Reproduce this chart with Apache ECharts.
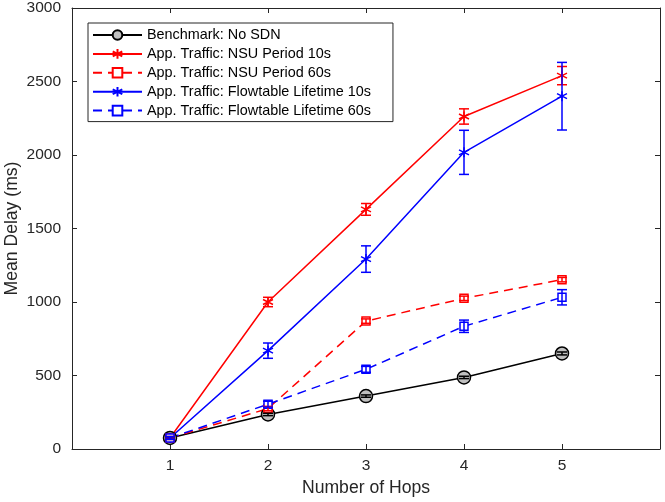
<!DOCTYPE html>
<html lang="en">
<head>
  <meta charset="UTF-8">
  <title>Mean Delay vs Number of Hops</title>
  <style>
    html, body { margin: 0; padding: 0; background: #fff; }
    #chart { width: 665px; height: 502px; }
  </style>
</head>
<body>
  <div id="chart"></div>
  <script src="https://cdn.jsdelivr.net/npm/echarts@6/dist/echarts.min.js"></script>
  <script>
    // hops on x axis
    var hops = [1, 2, 3, 4, 5];
    // mean delay (ms) and error (half-width) per series
    var benchmark = [75, 235, 360, 487, 650];
    var benchmarkErr = [5, 8, 8, 8, 10];
    var nsu10 = [75, 1000, 1630, 2262, 2540];
    var nsu10Err = [10, 32, 40, 52, 62];
    var nsu60 = [75, 275, 870, 1025, 1152];
    var nsu60Err = [8, 15, 15, 15, 15];
    var flow10 = [75, 669, 1292, 2018, 2400];
    var flow10Err = [10, 52, 90, 150, 230];
    var flow60 = [75, 305, 542, 835, 1032];
    var flow60Err = [8, 20, 20, 42, 52];
    var yTicks = [0, 500, 1000, 1500, 2000, 2500, 3000];

    var axisColor = '#262626';
    var font = 'Liberation Sans, Arial, sans-serif';
    var asterisk = 'path://M0,-10L0,10M-8.7,-5L8.7,5M-8.7,5L8.7,-5';

    function pairs(vals) {
      return hops.map(function (h, i) { return [h, vals[i]]; });
    }

    function errSeries(vals, errs, color, z) {
      return {
        type: 'custom',
        xAxisIndex: 0,
        yAxisIndex: 0,
        silent: true,
        z: z,
        data: hops.map(function (h, i) { return [h, vals[i], errs[i]]; }),
        renderItem: function (params, api) {
          var x = api.value(0), v = api.value(1), e = api.value(2);
          var top = api.coord([x, v + e]);
          var bot = api.coord([x, v - e]);
          var w = 5;
          var st = { stroke: color, lineWidth: 1.5 };
          return {
            type: 'group',
            children: [
              { type: 'line', shape: { x1: top[0], y1: top[1], x2: bot[0], y2: bot[1] }, style: st },
              { type: 'line', shape: { x1: top[0] - w, y1: top[1], x2: top[0] + w, y2: top[1] }, style: st },
              { type: 'line', shape: { x1: bot[0] - w, y1: bot[1], x2: bot[0] + w, y2: bot[1] }, style: st }
            ]
          };
        }
      };
    }

    var chart = echarts.init(document.getElementById('chart'));
    chart.setOption({
      animation: false,
      textStyle: { fontFamily: font },
      grid: { left: 72, right: 5, top: 8, bottom: 53, containLabel: false, outerBoundsMode: 'none' },
      legend: {
        orient: 'vertical',
        left: 88,
        top: 23,
        padding: [5, 22, 4, 4],
        itemGap: 4.6,
        itemWidth: 49,
        itemHeight: 12,
        borderColor: axisColor,
        borderWidth: 1,
        backgroundColor: '#fff',
        textStyle: { fontSize: 14.4, color: '#000', fontFamily: font },
        data: [
          'Benchmark: No SDN',
          'App. Traffic: NSU Period 10s',
          'App. Traffic: NSU Period 60s',
          'App. Traffic: Flowtable Lifetime 10s',
          'App. Traffic: Flowtable Lifetime 60s'
        ]
      },
      xAxis: [{
        type: 'value',
        min: 0,
        max: 6,
        interval: 1,
        name: 'Number of Hops',
        nameLocation: 'middle',
        nameGap: 30,
        nameMoveOverlap: false,
        nameTextStyle: { fontSize: 17.6, color: axisColor },
        axisLine: { show: true, onZero: false, lineStyle: { color: axisColor } },
        axisTick: { inside: true, length: 5, lineStyle: { color: axisColor } },
        axisLabel: {
          fontSize: 15.5, color: axisColor, margin: 9,
          formatter: function (v) { return (v >= 1 && v <= 5) ? String(v) : ''; }
        },
        splitLine: { show: false }
      }, {
        type: 'value',
        position: 'top',
        min: 0,
        max: 6,
        interval: 1,
        axisLine: { show: true, onZero: false, lineStyle: { color: axisColor } },
        axisTick: { inside: true, length: 5, lineStyle: { color: axisColor } },
        axisLabel: { show: false },
        splitLine: { show: false }
      }],
      yAxis: [{
        type: 'value',
        min: yTicks[0],
        max: yTicks[yTicks.length - 1],
        interval: 500,
        name: 'Mean Delay (ms)',
        nameLocation: 'middle',
        nameGap: 51,
        nameMoveOverlap: false,
        nameTextStyle: { fontSize: 17.6, color: axisColor },
        axisLine: { show: true, onZero: false, lineStyle: { color: axisColor } },
        axisTick: { inside: true, length: 5, lineStyle: { color: axisColor } },
        axisLabel: {
          fontSize: 15.5, color: axisColor, margin: 11,
          formatter: function (v) { return String(v); }
        },
        splitLine: { show: false }
      }, {
        type: 'value',
        position: 'right',
        min: yTicks[0],
        max: yTicks[yTicks.length - 1],
        interval: 500,
        axisLine: { show: true, onZero: false, lineStyle: { color: axisColor } },
        axisTick: { inside: true, length: 5, lineStyle: { color: axisColor } },
        axisLabel: { show: false },
        splitLine: { show: false }
      }],
      series: [
        {
          name: 'Benchmark: No SDN',
          type: 'line',
          z: 3,
          data: pairs(benchmark),
          symbol: 'circle',
          symbolSize: 13,
          itemStyle: { color: '#c0c0c0', borderColor: '#000', borderWidth: 1.5 },
          lineStyle: { color: '#000', width: 1.5 }
        },
        {
          name: 'App. Traffic: NSU Period 10s',
          type: 'line',
          z: 3,
          data: pairs(nsu10),
          symbol: asterisk,
          symbolSize: 10,
          itemStyle: { color: 'none', borderColor: '#ff0000', borderWidth: 1.5 },
          lineStyle: { color: '#ff0000', width: 1.5 }
        },
        {
          name: 'App. Traffic: NSU Period 60s',
          type: 'line',
          z: 3,
          data: pairs(nsu60),
          symbol: 'rect',
          symbolSize: 8,
          itemStyle: { color: '#fff', borderColor: '#ff0000', borderWidth: 1.5 },
          lineStyle: { color: '#ff0000', width: 1.5, type: [9, 6] }
        },
        {
          name: 'App. Traffic: Flowtable Lifetime 10s',
          type: 'line',
          z: 3,
          data: pairs(flow10),
          symbol: asterisk,
          symbolSize: 10,
          itemStyle: { color: 'none', borderColor: '#0000ff', borderWidth: 1.5 },
          lineStyle: { color: '#0000ff', width: 1.5 }
        },
        {
          name: 'App. Traffic: Flowtable Lifetime 60s',
          type: 'line',
          z: 3,
          data: pairs(flow60),
          symbol: 'rect',
          symbolSize: 8,
          itemStyle: { color: '#fff', borderColor: '#0000ff', borderWidth: 1.5 },
          lineStyle: { color: '#0000ff', width: 1.5, type: [9, 6] }
        },
        errSeries(benchmark, benchmarkErr, '#000', 4),
        errSeries(nsu10, nsu10Err, '#ff0000', 4),
        errSeries(nsu60, nsu60Err, '#ff0000', 4),
        errSeries(flow10, flow10Err, '#0000ff', 4),
        errSeries(flow60, flow60Err, '#0000ff', 4)
      ]
    });
  </script>
</body>
</html>
